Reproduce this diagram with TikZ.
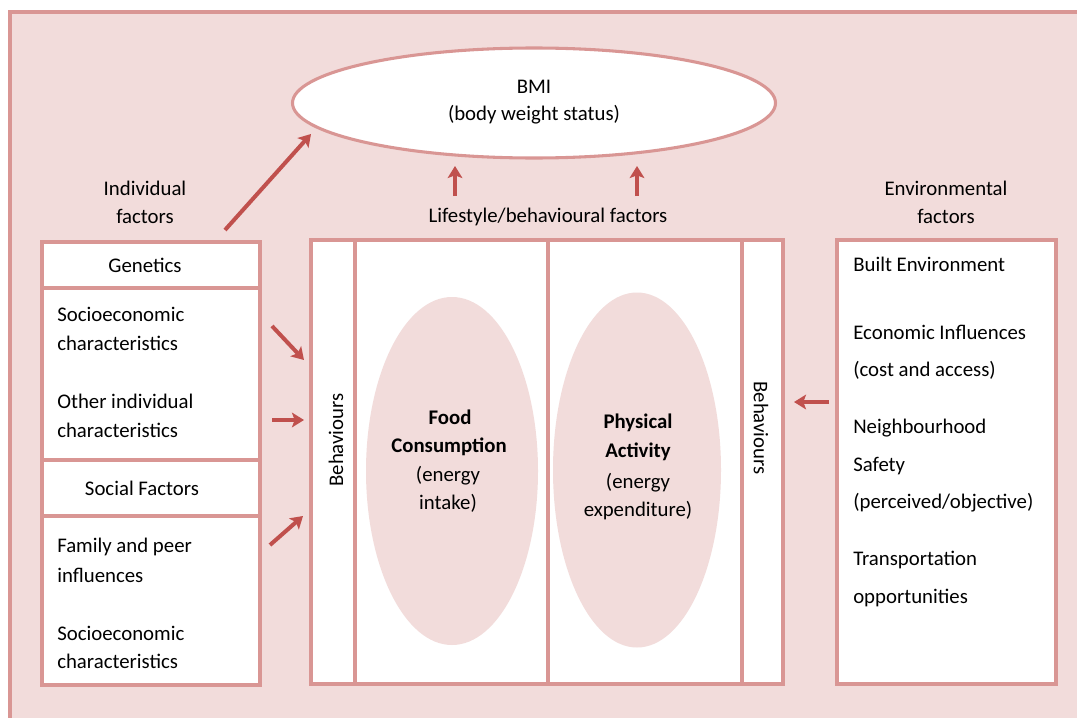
\documentclass[tikz,border=0pt]{standalone}
\usepackage{fontspec}
\setmainfont{Carlito}
\usetikzlibrary{arrows.meta,shapes.geometric}
\definecolor{bgpink}{HTML}{F2DCDB}
\definecolor{edgepink}{HTML}{D99694}
\definecolor{arrred}{HTML}{C0504D}
\tikzset{
  box/.style={draw=edgepink,line width=2.3pt,fill=white},
  lbl/.style={inner sep=0pt,yshift=-1.2pt,font=\fontsize{15.6}{18}\selectfont},
  blbl/.style={inner sep=0pt,yshift=-1.2pt,font=\fontsize{15.6}{18}\selectfont\bfseries},
  arr/.style={draw=arrred,line width=3pt,-{Stealth[length=9pt,width=11pt,inset=2pt]}},
  blob/.style={ellipse,fill=bgpink,draw=none,inner sep=0pt}
}
\begin{document}
\begin{tikzpicture}[x=0.75pt,y=-0.75pt]
\useasboundingbox (0,0) rectangle (1077,717);
% background
\draw[fill=bgpink,draw=edgepink,line width=2.3pt] (10,12) rectangle (1090,730);
% BMI ellipse
\node[ellipse,draw=edgepink,line width=2.3pt,fill=white,minimum width=483*0.75pt,minimum height=110*0.75pt,inner sep=0pt] (bmi) at (534,103) {};
\node[lbl] (bmit1) at (534,85) {BMI};
\node[lbl] (bmit2) at (534,113) {(body weight status)};
% headings
\node[lbl] (ind1) at (145,187) {Individual};
\node[lbl] (ind2) at (145,215) {factors};
\node[lbl] (life) at (548,215) {Lifestyle/behavioural factors};
\node[lbl] (env1) at (946,187) {Environmental};
\node[lbl] (env2) at (946,215) {factors};
% left column
\draw[box] (42,242) rectangle (260,288);
\draw[box] (42,288) rectangle (260,460);
\draw[box] (42,460) rectangle (260,516);
\draw[box] (42,516) rectangle (260,685);
\node[lbl] (gen) at (145,264) {Genetics};
\node[lbl,anchor=west] (l1) at (57,313) {Socioeconomic};
\node[lbl,anchor=west] (l2) at (57,342) {characteristics};
\node[lbl,anchor=west] (l3) at (57,400) {Other individual};
\node[lbl,anchor=west] (l4) at (57,429) {characteristics};
\node[lbl] (soc) at (142,487) {Social Factors};
\node[lbl,anchor=west] (l5) at (57,545) {Family and peer};
\node[lbl,anchor=west] (l6) at (57,574) {influences};
\node[lbl,anchor=west] (l7) at (57,632) {Socioeconomic};
\node[lbl,anchor=west] (l8) at (57,660) {characteristics};
% middle box
\draw[box] (311,240) rectangle (783,684);
\draw[draw=edgepink,line width=2.3pt] (355,240) -- (355,684);
\draw[draw=edgepink,line width=2.3pt] (548,240) -- (548,684);
\draw[draw=edgepink,line width=2.3pt] (742,240) -- (742,684);
\node[inner sep=0pt,font=\fontsize{15.6}{18}\selectfont,rotate=90] (behL) at (336,440) {Behaviours};
\node[inner sep=0pt,font=\fontsize{15.6}{18}\selectfont,rotate=-90] (behR) at (761,428) {Behaviours};
\node[blob,minimum width=172*0.75pt,minimum height=348*0.75pt] (food) at (452,471) {};
\node[blob,minimum width=168*0.75pt,minimum height=355*0.75pt] (phys) at (637,470) {};
\node[blbl] (f1) at (450,416) {Food};
\node[blbl] (f2) at (449,445) {Consumption};
\node[lbl] (f3) at (448,474) {(energy};
\node[lbl] (f4) at (448,502) {intake)};
\node[blbl] (p1) at (638,421) {Physical};
\node[blbl] (p2) at (638,450) {Activity};
\node[lbl] (p3) at (638,481) {(energy};
\node[lbl] (p4) at (638,509) {expenditure)};
% right box
\draw[box] (837,240) rectangle (1056,684);
\node[lbl,anchor=west] (r1) at (853,263) {Built Environment};
\node[lbl,anchor=west] (r2) at (853,331) {Economic Influences};
\node[lbl,anchor=west] (r3) at (853,369) {(cost and access)};
\node[lbl,anchor=west] (r4) at (853,426) {Neighbourhood};
\node[lbl,anchor=west] (r5) at (853,464) {Safety};
\node[lbl,anchor=west] (r6) at (853,501) {(perceived/objective)};
\node[lbl,anchor=west] (r7) at (853,558) {Transportation};
\node[lbl,anchor=west] (r8) at (853,596) {opportunities};
% arrow coordinates
\coordinate (a1s) at (225,230); \coordinate (a1e) at (311,134);
\coordinate (a2s) at (455,196); \coordinate (a2e) at (455,166);
\coordinate (a3s) at (637,196); \coordinate (a3e) at (637,166);
\coordinate (a4s) at (272,326); \coordinate (a4e) at (304,360);
\coordinate (a5s) at (272,420); \coordinate (a5e) at (304,420);
\coordinate (a6s) at (270,545); \coordinate (a6e) at (303,516);
\coordinate (a7s) at (829,402); \coordinate (a7e) at (794,402);
\draw[arr] (a1s) -- (a1e);
\draw[arr] (a2s) -- (a2e);
\draw[arr] (a3s) -- (a3e);
\draw[arr] (a4s) -- (a4e);
\draw[arr] (a5s) -- (a5e);
\draw[arr] (a6s) -- (a6e);
\draw[arr] (a7s) -- (a7e);
\end{tikzpicture}
\end{document}
